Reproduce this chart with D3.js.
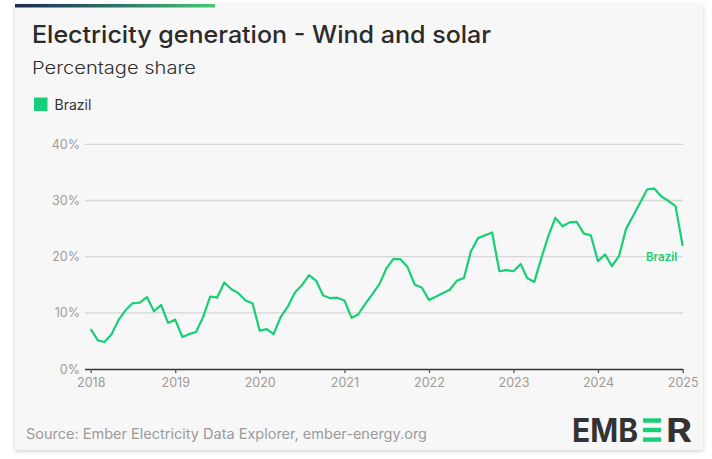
<!DOCTYPE html>
<html>
<head>
<meta charset="utf-8">
<script src="https://cdn.jsdelivr.net/npm/d3@7"></script>
<style>
  html, body { margin: 0; padding: 0; background: #ffffff; }
  svg { display: block; }
  text { font-family: Inter, "Noto Sans", sans-serif; }
</style>
</head>
<body>
<svg id="chart" width="712" height="459"></svg>
<script>
// ---- Data ----
const seriesName = "Brazil";
const startMonth = new Date(2018, 0, 1);
// Monthly wind + solar share (%) Jan 2018 – Jan 2025
const brazilShare = [
  7.1, 5.1, 4.8, 6.2, 8.7, 10.5, 11.7, 11.8, 12.8, 10.3, 11.4, 8.2,
  8.8, 5.7, 6.2, 6.6, 9.2, 12.9, 12.7, 15.4, 14.2, 13.5, 12.2, 11.7,
  6.8, 7.1, 6.2, 9.3, 11.1, 13.6, 14.9, 16.7, 15.7, 13.1, 12.6, 12.7,
  12.2, 9.1, 9.7, 11.6, 13.3, 15.1, 17.9, 19.6, 19.5, 18.1, 15.0, 14.5,
  12.3, 12.9, 13.5, 14.1, 15.7, 16.2, 20.9, 23.3, 23.8, 24.3, 17.4, 17.6,
  17.4, 18.7, 16.2, 15.5, 19.7, 23.7, 26.9, 25.4, 26.1, 26.2, 24.1, 23.8,
  19.2, 20.4, 18.3, 20.1, 24.9, 27.3, 29.6, 32.0, 32.1, 30.7, 29.9, 29.0,
  21.9
];
const yTicks = [0, 10, 20, 30, 40];
const xTickYears = [2018, 2019, 2020, 2021, 2022, 2023, 2024, 2025];
const titleText = "Electricity generation - Wind and solar";
const subtitleText = "Percentage share";
const sourceText = "Source: Ember Electricity Data Explorer, ember-energy.org";

const months = brazilShare.map((v, i) => d3.timeMonth.offset(startMonth, i));
const data = brazilShare.map((v, i) => ({ date: months[i], value: v }));

// ---- Styles ----
const green = "#17cf76";
const svg = d3.select("#chart");

const defs = svg.append("defs");
const shadow = defs.append("filter").attr("id", "shadow")
  .attr("x", "-5%").attr("y", "-5%").attr("width", "110%").attr("height", "115%");
shadow.append("feDropShadow").attr("dx", 0).attr("dy", 1.5)
  .attr("stdDeviation", 2).attr("flood-color", "#000").attr("flood-opacity", 0.18);
const grad = defs.append("linearGradient").attr("id", "topbar");
grad.append("stop").attr("offset", "0%").attr("stop-color", "#1c2a55");
grad.append("stop").attr("offset", "55%").attr("stop-color", "#2f7a6a");
grad.append("stop").attr("offset", "100%").attr("stop-color", "#49c878");

// Card
svg.append("rect").attr("x", 15).attr("y", 4).attr("width", 688).attr("height", 446)
  .attr("fill", "#f7f7f7").attr("filter", "url(#shadow)");
svg.append("rect").attr("x", 15).attr("y", 4).attr("width", 200).attr("height", 3.5)
  .attr("fill", "url(#topbar)");

// Helper to fit text to a width
function fit(sel, w) {
  const n = sel.node();
  const len = n.getComputedTextLength();
  if (Math.abs(len - w) > 1) sel.attr("textLength", w).attr("lengthAdjust", "spacingAndGlyphs");
  return sel;
}

// Titles
fit(svg.append("text").attr("x", 32).attr("y", 42.5)
  .attr("font-size", 24).attr("font-weight", 500).attr("fill", "#2b2b2b")
  .text(titleText), 459);
fit(svg.append("text").attr("x", 32).attr("y", 73.5)
  .attr("font-size", 17).attr("font-weight", 300).attr("fill", "#2f2f2f")
  .text(subtitleText), 164);

// Legend
svg.append("rect").attr("x", 34).attr("y", 97.5).attr("width", 13.5).attr("height", 13.5)
  .attr("fill", green);
fit(svg.append("text").attr("x", 54.5).attr("y", 110)
  .attr("font-size", 14).attr("fill", "#333")
  .text(seriesName), 36);

// Scales
const x = d3.scaleTime()
  .domain([new Date(2018, 0, 1), new Date(2025, 0, 1)])
  .range([90.7, 682.7]);
const y = d3.scaleLinear().domain([0, 40]).range([369, 144.3]);

// Gridlines + y labels
const yAxis = svg.append("g").attr("transform", "translate(85,0)")
  .call(d3.axisLeft(y).tickValues(yTicks).tickFormat(d => d + "%").tickSize(0).tickPadding(5));
yAxis.select(".domain").remove();
yAxis.selectAll("text").attr("font-size", 12.5).attr("fill", "#a09a96")
  .attr("font-family", "Inter, 'Noto Sans', sans-serif");

svg.append("g").selectAll("line").data(yTicks.filter(d => d > 0)).join("line")
  .attr("x1", 85).attr("x2", 683)
  .attr("y1", d => y(d)).attr("y2", d => y(d))
  .attr("stroke", "#d6d6d6").attr("stroke-width", 1.3);

// X axis
const xAxis = svg.append("g").attr("transform", `translate(0,${y(0)})`)
  .call(d3.axisBottom(x)
    .tickValues(xTickYears.map(yr => new Date(yr, 0, 1)))
    .tickFormat(d3.timeFormat("%Y")).tickSize(4).tickSizeOuter(0).tickPadding(5));
xAxis.select(".domain").attr("stroke", "#333").attr("stroke-width", 1.3)
  .attr("d", `M85,0.5H${683}`);
xAxis.selectAll(".tick line").attr("stroke", "#555").attr("stroke-width", 1.3);
xAxis.selectAll("text").attr("font-size", 12.5).attr("fill", "#a09a96")
  .attr("font-family", "Inter, 'Noto Sans', sans-serif");

// Line
const line = d3.line().x(d => x(d.date)).y(d => y(d.value));
svg.append("path").datum(data)
  .attr("fill", "none").attr("stroke", green).attr("stroke-width", 2.2)
  .attr("stroke-linejoin", "round").attr("d", line);

// End label
const last = data[data.length - 1];
svg.append("text").attr("x", x(last.date) - 5.5).attr("y", y(last.value) + 14.7)
  .attr("text-anchor", "end").attr("font-size", 11.5).attr("font-weight", 600)
  .attr("fill", green).text(seriesName);

// Source
fit(svg.append("text").attr("x", 26).attr("y", 439)
  .attr("font-size", 14).attr("fill", "#9a9a9a")
  .text(sourceText), 401);

// EMBER logo
const logo = svg.append("g");
fit(logo.append("text").attr("x", 572).attr("y", 441.7)
  .attr("font-size", 32).attr("font-weight", 700).attr("fill", "#333")
  .attr("font-family", "'DejaVu Sans', sans-serif")
  .text("EMB"), 66);
[418.3, 427.8, 437.4].forEach(yy => {
  logo.append("rect").attr("x", 643).attr("y", yy).attr("width", 18).attr("height", 4.4)
    .attr("fill", green);
});
fit(logo.append("text").attr("x", 666).attr("y", 441.7)
  .attr("font-size", 32).attr("font-weight", 700).attr("fill", "#333")
  .attr("font-family", "'DejaVu Sans', sans-serif")
  .text("R"), 26);
</script>
</body>
</html>
